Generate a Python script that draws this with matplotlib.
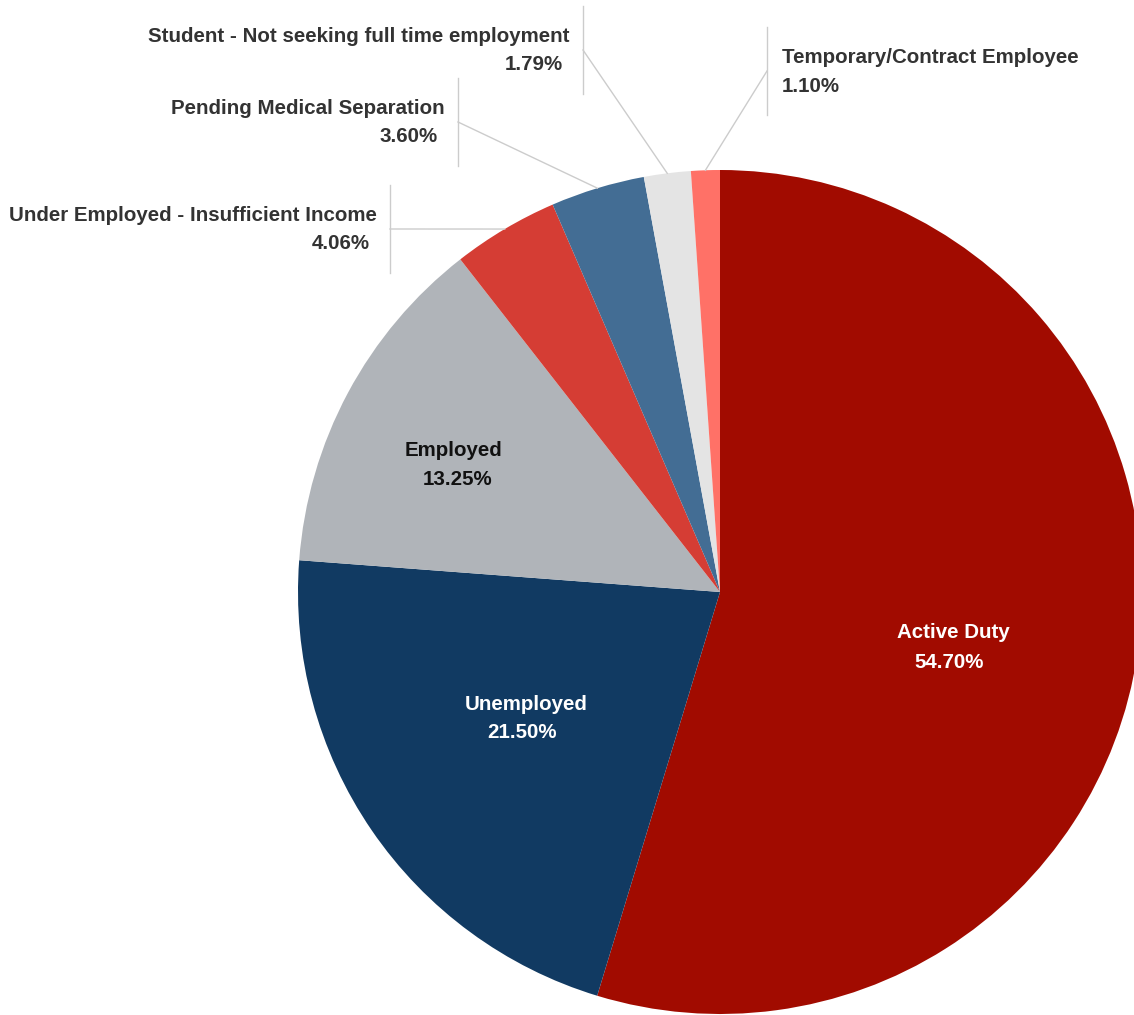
import numpy as np
import matplotlib
matplotlib.use("Agg")
import matplotlib.pyplot as plt

# service status breakdown
labels = [
    "Active Duty",
    "Unemployed",
    "Employed",
    "Under Employed - Insufficient Income",
    "Pending Medical Separation",
    "Student - Not seeking full time employment",
    "Temporary/Contract Employee",
]
shares = [54.70, 21.50, 13.25, 4.06, 3.60, 1.79, 1.10]
colors = ["#a10b00", "#113a62", "#b0b4b9", "#d53d34", "#436d94", "#e4e4e4", "#ff7167"]

W, H = 1134, 1015
plt.rcParams["font.family"] = ["Liberation Sans", "DejaVu Sans"]

fig = plt.figure(figsize=(W / 100, H / 100), dpi=100)
ax = fig.add_axes([0, 0, 1, 1])

cx, cy, r = 720, H - 592, 422
wedges, _ = ax.pie(shares, colors=colors, startangle=90, counterclock=False,
                   center=(cx, cy), radius=r, frame=True)
ax.set_xlim(0, W)
ax.set_ylim(0, H)
ax.axis("off")

fs = 14.8

# labels drawn inside the big slices: (x, y) in px, text colour
inner = {
    0: (953, 633, 662, "white"),
    1: (526, 704, 733, "white"),
    2: (454, 450, 479, "#111111"),
}
for i, (x, y1, y2, c) in inner.items():
    ax.text(x, H - y1, labels[i], ha="center", va="center", color=c,
            fontsize=fs, fontweight="bold")
    ax.text(x - 4 + (8 if i == 2 else 0), H - y2, f"{shares[i]:.2f}%", ha="center",
            va="center", color=c, fontsize=fs, fontweight="bold")

# outside labels with leader lines: index -> (vertical line x, elbow y, side)
outer = {
    3: (390, 229, "left"),
    4: (458, 122, "left"),
    5: (583, 50, "left"),
    6: (767, 71, "right"),
}
cum = np.cumsum([0] + shares)
line_c = "#cccccc"
for i, (vx, ey, side) in outer.items():
    mid = (cum[i] + cum[i + 1]) / 2 / 100 * 360
    ang = np.deg2rad(90 - mid)
    px, py = cx + r * np.cos(ang), cy + r * np.sin(ang)
    ax.plot([px, vx], [py, H - ey], color=line_c, lw=1)
    ax.plot([vx, vx], [H - ey - 44, H - ey + 44], color=line_c, lw=1)
    if side == "left":
        tx, ha = vx - 13, "right"
        ax.text(tx, H - (ey - 14), labels[i], ha=ha, va="center", color="#333333",
                fontsize=fs, fontweight="bold")
        ax.text(tx - 7, H - (ey + 14), f"{shares[i]:.2f}%", ha=ha, va="center",
                color="#333333", fontsize=fs, fontweight="bold")
    else:
        tx, ha = vx + 15, "left"
        ax.text(tx, H - (ey - 14), labels[i], ha=ha, va="center", color="#333333",
                fontsize=fs, fontweight="bold")
        ax.text(tx, H - (ey + 15), f"{shares[i]:.2f}%", ha=ha, va="center",
                color="#333333", fontsize=fs, fontweight="bold")

fig.savefig("out.png", dpi=100, facecolor="white")
